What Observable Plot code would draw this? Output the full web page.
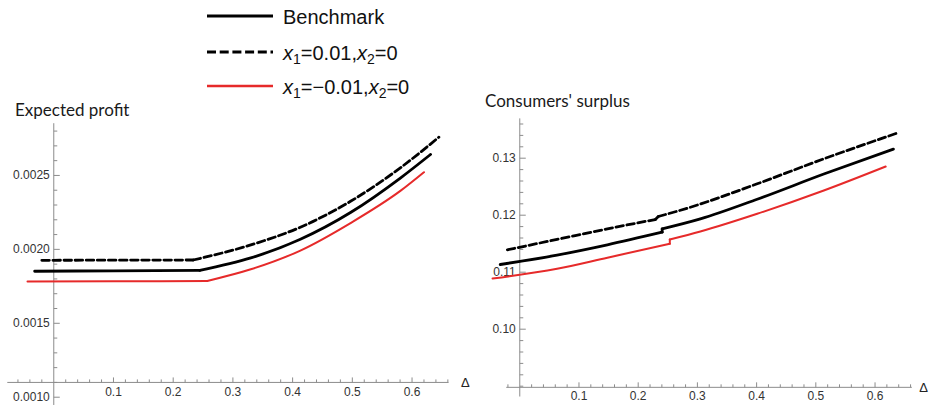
<!DOCTYPE html>
<html>
<head>
<meta charset="utf-8">
<script src="https://cdn.jsdelivr.net/npm/d3@7"></script>
<script src="https://cdn.jsdelivr.net/npm/@observablehq/plot@0.6"></script>
<style>
  body { margin: 0; background: #fff; }
  #wrap { position: relative; width: 929px; height: 407px; overflow: hidden; background: #fff;
          font-family: "Liberation Sans", Arial, sans-serif; }
  .panel { position: absolute; top: 110px; }
  .title { position: absolute; font-family: Lato, "Open Sans", sans-serif; font-size: 17px;
           color: #1a1a1a; white-space: nowrap; line-height: 1; }
  .lg-line { position: absolute; left: 207px; width: 66px; height: 10px; }
  .lg-text { position: absolute; left: 283px; font-size: 20px; line-height: 1; color: #111; white-space: nowrap; }
  .lg-text sub { font-size: 14px; vertical-align: -4px; line-height: 0; }
</style>
</head>
<body>
<div id="wrap"></div>
<script>
// ---- series styles and legend ----
const seriesNames = ["Benchmark", "x1=0.01,x2=0", "x1=-0.01,x2=0"];
const legendLabels = [
  "Benchmark",
  "<i>x</i><sub>1</sub>=0.01,<i>x</i><sub>2</sub>=0",
  "<i>x</i><sub>1</sub>=\u22120.01,<i>x</i><sub>2</sub>=0"
];
const seriesColors = ["#000000", "#000000", "#e62a2a"];
const seriesWidths = [2.8, 2.8, 2];
const seriesDashes = [null, "7.5,3.6", null];

// ---- Expected profit (left panel); each series: flat part, then the rising part from the kink ----
const profitDeltaBench = [-0.032, 0.1, 0.2446, 0.33, 0.413, 0.497, 0.581, 0.631];
const profitBench      = [0.001852, 0.001855, 0.001858, 0.001942, 0.002068, 0.002249, 0.002484, 0.002642];
const profitDeltaHigh  = [-0.020, 0.1, 0.2335, 0.33, 0.413, 0.497, 0.581, 0.645];
const profitHigh       = [0.001926, 0.001927, 0.001928, 0.002030, 0.002150, 0.002325, 0.002553, 0.002759];
const profitDeltaLow   = [-0.044, 0.1, 0.257, 0.33, 0.413, 0.497, 0.581, 0.620];
const profitLow        = [0.001782, 0.001784, 0.001786, 0.001865, 0.001992, 0.002178, 0.002397, 0.002522];
const profitKinkIndex  = 2;

// ---- Consumers' surplus (right panel); each series jumps once (after index 3) ----
const surplusDeltaBench = [-0.033, 0.063, 0.148, 0.2405, 0.2405, 0.305, 0.401, 0.5135, 0.631];
const surplusBench      = [0.11135, 0.11300, 0.11480, 0.11702, 0.11760, 0.11935, 0.12280, 0.12722, 0.13160];
const surplusDeltaHigh  = [-0.021, 0.063, 0.148, 0.229, 0.234, 0.2883, 0.401, 0.5135, 0.639];
const surplusHigh       = [0.11393, 0.11575, 0.11760, 0.11925, 0.11977, 0.12140, 0.12551, 0.12989, 0.13446];
const surplusDeltaLow   = [-0.046, 0.063, 0.148, 0.2534, 0.2534, 0.305, 0.401, 0.5135, 0.618];
const surplusLow        = [0.10890, 0.11060, 0.11255, 0.11498, 0.11574, 0.11714, 0.12025, 0.12433, 0.12854];
const surplusJumpIndex  = 3;

// ---- tick values ----
const profitXMajor = [0.1, 0.2, 0.3, 0.4, 0.5, 0.6];
const profitXMinor = [-0.06, -0.04, -0.02, 0.02, 0.04, 0.06, 0.08, 0.12, 0.14, 0.16, 0.18, 0.22, 0.24, 0.26, 0.28,
                      0.32, 0.34, 0.36, 0.38, 0.42, 0.44, 0.46, 0.48, 0.52, 0.54, 0.56, 0.58, 0.62, 0.64, 0.66];
const profitYMajor = [0.0010, 0.0015, 0.0020, 0.0025];
const profitYMinor = [0.0011, 0.0012, 0.0013, 0.0014, 0.0016, 0.0017, 0.0018, 0.0019,
                      0.0021, 0.0022, 0.0023, 0.0024, 0.0026, 0.0027, 0.0028];
const surplusXMajor = [0.1, 0.2, 0.3, 0.4, 0.5, 0.6];
const surplusXMinor = [-0.02, 0.02, 0.04, 0.06, 0.08, 0.12, 0.14, 0.16, 0.18, 0.22, 0.24, 0.26, 0.28,
                       0.32, 0.34, 0.36, 0.38, 0.42, 0.44, 0.46, 0.48, 0.52, 0.54, 0.56, 0.58, 0.62, 0.64, 0.66];
const surplusYMajor = [0.10, 0.11, 0.12, 0.13];
const surplusYMinor = [0.090, 0.092, 0.094, 0.096, 0.098, 0.102, 0.104, 0.106, 0.108, 0.112, 0.114, 0.116, 0.118,
                       0.122, 0.124, 0.126, 0.128, 0.132, 0.134, 0.136];

const axisColor = "#8c8c8c";
const labelColor = "#333";
const labelFont = "Liberation Sans";

// tick glyphs drawn as custom dot symbols (fixed pixel length)
const tickUp = (len) => ({ draw(ctx) { ctx.moveTo(0, 0); ctx.lineTo(0, -len); } });
const tickRight = (len) => ({ draw(ctx) { ctx.moveTo(0, 0); ctx.lineTo(len, 0); } });

function rows(xs, ys) { return xs.map((d, i) => ({ d, v: ys[i] })); }

// split a series into smooth pieces: [0..k] and [k..end] (sharing the kink point) or,
// for a jump, [0..k] and [k+1..end] joined by a short straight connector
function pieces(xs, ys, k, jump) {
  const r = rows(xs, ys);
  return jump
    ? { parts: [r.slice(0, k + 1), r.slice(k + 1)], connector: [r[k], r[k + 1]] }
    : { parts: [r.slice(0, k + 1), r.slice(k)], connector: null };
}

function panel(cfg) {
  const lines = [];
  cfg.series.forEach((s, i) => {
    const style = {
      x: "d", y: "v",
      stroke: seriesColors[i], strokeWidth: seriesWidths[i],
      strokeDasharray: seriesDashes[i], strokeLinejoin: "round"
    };
    s.parts.forEach(p => lines.push(Plot.line(p, { ...style, curve: "monotone-x" })));
    if (s.connector) lines.push(Plot.line(s.connector, { ...style, curve: "linear", strokeDasharray: null }));
  });
  const txt = { fontSize: 12, fontFamily: labelFont, fill: labelColor };
  return Plot.plot({
    width: cfg.width, height: cfg.height,
    marginLeft: cfg.margin[0], marginRight: cfg.margin[1],
    marginTop: cfg.margin[2], marginBottom: cfg.margin[3],
    x: { domain: cfg.xDomain, axis: null },
    y: { domain: cfg.yDomain, axis: null },
    style: { background: "transparent", overflow: "visible" },
    marks: [
      // axes crossing inside the frame
      Plot.ruleY([cfg.xAxisAt], { x1: cfg.xExtent[0], x2: cfg.xExtent[1], stroke: axisColor, strokeWidth: 1 }),
      Plot.ruleX([0], { y1: cfg.yExtent[0], y2: cfg.yExtent[1], stroke: axisColor, strokeWidth: 1 }),
      Plot.dot(cfg.xMajor, { x: d => d, y: () => cfg.xAxisAt, symbol: tickUp(5), stroke: axisColor, strokeWidth: 1 }),
      Plot.dot(cfg.xMinor, { x: d => d, y: () => cfg.xAxisAt, symbol: tickUp(3), stroke: axisColor, strokeWidth: 1 }),
      Plot.dot(cfg.yMajor, { x: () => 0, y: d => d, symbol: tickRight(6), stroke: axisColor, strokeWidth: 1 }),
      Plot.dot(cfg.yMinor, { x: () => 0, y: d => d, symbol: tickRight(3.5), stroke: axisColor, strokeWidth: 1 }),
      Plot.text(cfg.xMajor, { x: d => d, y: () => cfg.xAxisAt, text: d => d.toFixed(1), dy: cfg.xLabelDy, ...txt }),
      Plot.text(cfg.yMajor, { x: () => 0, y: d => d, text: cfg.yFormat, textAnchor: "end", dx: -4, ...txt }),
      Plot.text(["\u0394"], { x: () => cfg.xExtent[1], y: () => cfg.xAxisAt, text: d => d, textAnchor: "start",
        dx: cfg.deltaDx, fontSize: 13, fontFamily: labelFont, fill: "#222" }),
      ...lines
    ]
  });
}

const wrap = document.getElementById("wrap");

// legend
const legendY = [15.7, 51.7, 86];
legendLabels.forEach((lab, i) => {
  const sw = document.createElementNS("http://www.w3.org/2000/svg", "svg");
  sw.setAttribute("class", "lg-line");
  sw.setAttribute("width", 66); sw.setAttribute("height", 10);
  sw.style.top = (legendY[i] - 5) + "px";
  const ln = document.createElementNS("http://www.w3.org/2000/svg", "line");
  ln.setAttribute("x1", 0); ln.setAttribute("x2", 66); ln.setAttribute("y1", 5); ln.setAttribute("y2", 5);
  ln.setAttribute("stroke", seriesColors[i]);
  ln.setAttribute("stroke-width", i === 2 ? 2.5 : 3);
  if (seriesDashes[i]) ln.setAttribute("stroke-dasharray", "9,3.7");
  sw.appendChild(ln);
  wrap.appendChild(sw);
  const t = document.createElement("div");
  t.className = "lg-text";
  t.innerHTML = lab;
  t.style.top = (legendY[i] - 9) + "px";
  wrap.appendChild(t);
});

// titles
const t1 = document.createElement("div");
t1.className = "title"; t1.textContent = "Expected profit";
t1.style.left = "15px"; t1.style.top = "101px";
wrap.appendChild(t1);
const t2 = document.createElement("div");
t2.className = "title"; t2.textContent = "Consumers' surplus";
t2.style.left = "485px"; t2.style.top = "92px";
wrap.appendChild(t2);

// left panel
const left = panel({
  width: 470, height: 297, margin: [5.5, 10.7, 5.8, 2.9],
  xDomain: [-0.08, 0.68], yDomain: [0.00095, 0.0029],
  xAxisAt: 0.0011, xExtent: [-0.077, 0.662], yExtent: [0.000944, 0.00285],
  xMajor: profitXMajor, xMinor: profitXMinor, yMajor: profitYMajor, yMinor: profitYMinor,
  yFormat: d => d.toFixed(4), xLabelDy: 9.5, deltaDx: 12,
  series: [
    pieces(profitDeltaBench, profitBench, profitKinkIndex, false),
    pieces(profitDeltaHigh, profitHigh, profitKinkIndex, false),
    pieces(profitDeltaLow, profitLow, profitKinkIndex, false)
  ]
});
left.classList.add("panel");
left.style.left = "0px";
wrap.appendChild(left);

// right panel
const right = panel({
  width: 459, height: 297, margin: [1.9, 7.1, 2.1, 1.35],
  xDomain: [-0.08, 0.68], yDomain: [0.0865, 0.138],
  xAxisAt: 0.0898, xExtent: [-0.022, 0.663], yExtent: [0.0881, 0.1369],
  xMajor: surplusXMajor, xMinor: surplusXMinor, yMajor: surplusYMajor, yMinor: surplusYMinor,
  yFormat: d => d.toFixed(2), xLabelDy: 9, deltaDx: 7,
  series: [
    pieces(surplusDeltaBench, surplusBench, surplusJumpIndex, true),
    pieces(surplusDeltaHigh, surplusHigh, surplusJumpIndex, true),
    pieces(surplusDeltaLow, surplusLow, surplusJumpIndex, true)
  ]
});
right.classList.add("panel");
right.style.left = "470px";
wrap.appendChild(right);
</script>
</body>
</html>
